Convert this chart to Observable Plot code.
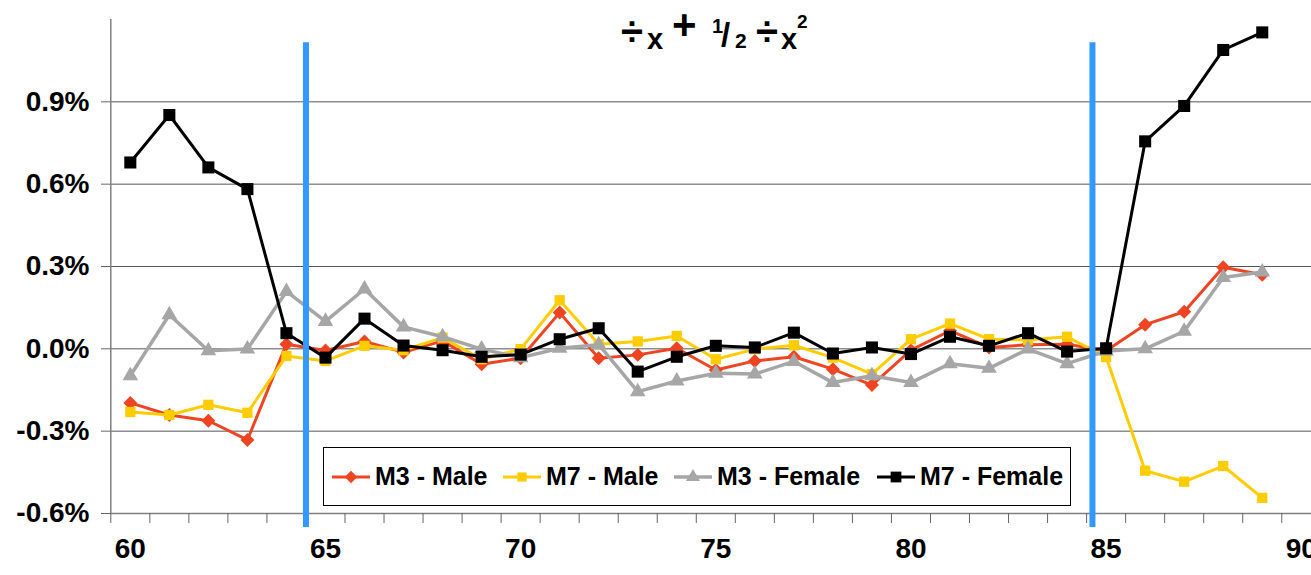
<!DOCTYPE html>
<html><head><meta charset="utf-8">
<script src="https://cdn.jsdelivr.net/npm/d3@7"></script>
<script src="https://cdn.jsdelivr.net/npm/@observablehq/plot@0.6"></script>
<style>
body{margin:0;background:#fff;}
#wrap{position:relative;width:1311px;height:575px;overflow:hidden;font-family:"Liberation Sans",Arial,sans-serif;}
#title{position:absolute;left:0;top:0;}
#legend{position:absolute;left:323px;top:447px;width:748px;height:59px;border:1.5px solid #000;background:#fff;box-sizing:border-box;}
.item{position:absolute;top:0;height:100%;display:flex;align-items:center;}
.item span{font-size:25px;font-weight:bold;color:#000;white-space:nowrap;}
.item svg{margin-right:5px;}
</style></head>
<body><div id="wrap"></div>
<script>
// Categories (age)
const years = [60,61,62,63,64,65,66,67,68,69,70,71,72,73,74,75,76,77,78,79,80,81,82,83,84,85,86,87,88,89];
// Series values (%)
const m3Male   = [-0.197,-0.241,-0.262,-0.332,0.017,-0.006,0.027,-0.013,0.029,-0.056,-0.034,0.132,-0.034,-0.022,0.002,-0.077,-0.044,-0.029,-0.074,-0.132,-0.005,0.066,0.005,0.015,0.017,-0.007,0.088,0.135,0.297,0.270];
const m7Male   = [-0.230,-0.241,-0.204,-0.233,-0.026,-0.044,0.011,-0.005,0.041,-0.038,-0.001,0.177,0.017,0.027,0.047,-0.038,-0.001,0.013,-0.032,-0.092,0.035,0.092,0.035,0.032,0.044,-0.030,-0.444,-0.484,-0.427,-0.543];
const m3Female = [-0.098,0.124,-0.007,-0.001,0.209,0.100,0.218,0.080,0.044,-0.001,-0.032,0.002,0.015,-0.156,-0.117,-0.089,-0.092,-0.046,-0.123,-0.098,-0.123,-0.054,-0.071,-0.001,-0.054,-0.008,0.000,0.064,0.260,0.280];
const m7Female = [0.679,0.852,0.661,0.582,0.057,-0.032,0.110,0.012,-0.005,-0.029,-0.021,0.035,0.075,-0.083,-0.029,0.011,0.005,0.059,-0.017,0.005,-0.019,0.044,0.011,0.057,-0.010,0.002,0.756,0.885,1.089,1.153];
// Tick labels
const yTicks = [-0.6,-0.3,0.0,0.3,0.6,0.9];
const xLabels = [60,65,70,75,80,85,90];
const boundaries = [64.5, 84.65];
const seriesNames = ["M3 - Male","M7 - Male","M3 - Female","M7 - Female"];

const styles = [
  {color:"#EE4422", symbol:d3.symbolDiamond2 || d3.symbolDiamond, r:6.3, width:3},
  {color:"#FFCC00", symbol:d3.symbolSquare, r:5.8, width:3},
  {color:"#A6A6A6", symbol:d3.symbolTriangle, r:5.8, width:3.5},
  {color:"#000000", symbol:d3.symbolSquare, r:6.8, width:3}
];
const seriesValues = [m3Male, m7Male, m3Female, m7Female];
const tables = seriesValues.map((vals, i) => years.map((yr, j) => ({year: yr, value: vals[j], series: seriesNames[i]})));

const font = '"Liberation Sans", Arial, sans-serif';
const marks = [
  Plot.ruleY(yTicks.filter(d => d > -0.6), {stroke:"#555", strokeWidth:1}),
  Plot.ruleX([years[0]-0.5], {y1:-0.6, y2:1.2, stroke:"#808080", strokeWidth:1.5}),
  Plot.ruleY([-0.6], {stroke:"#808080", strokeWidth:1.5}),
  Plot.axisY({ticks:yTicks, tickFormat:d => d.toFixed(1) + "%", tickSize:9, tickPadding:12, fontSize:28, fontWeight:"bold", stroke:"#666", fill:"#000", label:null}),
  Plot.axisX({ticks:years.map(d => d - 0.5).concat([years[years.length-1] + 0.5]), tickFormat:() => "", tickSize:10, stroke:"#666", label:null}),
  Plot.axisX({ticks:xLabels, tickFormat:d => String(d), tickSize:0, tickPadding:25, fontSize:28, fontWeight:"bold", fill:"#000", label:null})
];
tables.forEach((t, i) => {
  const s = styles[i];
  marks.push(Plot.line(t, {x:"year", y:"value", stroke:s.color, strokeWidth:s.width}));
  marks.push(Plot.dot(t, {x:"year", y:"value", symbol:s.symbol, r:s.r, fill:s.color, stroke:null}));
});
marks.push(Plot.ruleX(boundaries, {y1:-0.651, y2:1.115, stroke:"#3399FF", strokeWidth:6}));

const chart = Plot.plot({
  width:1311, height:575,
  marginLeft:110, marginRight:0, marginTop:19, marginBottom:62,
  x:{domain:[59.5, 90.5], range:[110.3, 1320.3]},
  y:{domain:[-0.6, 1.2]},
  style:{fontFamily:font, fontWeight:"bold", color:"#000", background:"#fff", overflow:"hidden"},
  marks
});
const wrap = document.getElementById("wrap");
wrap.appendChild(chart);

// Title (overlaid)
const tsvg = d3.create("svg").attr("id","title").attr("width",1311).attr("height",60)
  .style("font-family", font).style("font-weight","bold");
const tt = tsvg.append("text").attr("fill","#000");
const parts = [
  {t:"÷", x:621, y:45, s:40},
  {t:"x", x:647, y:49, s:29},
  {t:"+", x:672, y:39, s:42},
  {t:"1", x:712, y:33, s:20},
  {t:"/", x:721, y:46, s:33},
  {t:"2", x:735, y:48, s:21},
  {t:"÷", x:756, y:45, s:40},
  {t:"x", x:781, y:49, s:29},
  {t:"2", x:797, y:28, s:19}
];
parts.forEach(p => tt.append("tspan").attr("x",p.x).attr("y",p.y).attr("font-size",p.s).text(p.t));
wrap.appendChild(tsvg.node());

// Legend
const legend = document.createElement("div");
legend.id = "legend";
const lx = [8, 179, 350, 553];
seriesNames.forEach((name, i) => {
  const s = styles[i];
  const item = document.createElement("div");
  item.className = "item";
  item.style.left = lx[i] + "px";
  const sw = d3.create("svg").attr("width",38).attr("height",20);
  sw.append("line").attr("x1",0).attr("x2",38).attr("y1",10).attr("y2",10).attr("stroke",s.color).attr("stroke-width",s.width);
  sw.append("path").attr("transform","translate(19,10)").attr("fill",s.color)
    .attr("d", d3.symbol(s.symbol, Math.PI * s.r * s.r * 0.8)());
  item.appendChild(sw.node());
  const sp = document.createElement("span");
  sp.textContent = name;
  item.appendChild(sp);
  legend.appendChild(item);
});
wrap.appendChild(legend);
</script>
</body></html>
